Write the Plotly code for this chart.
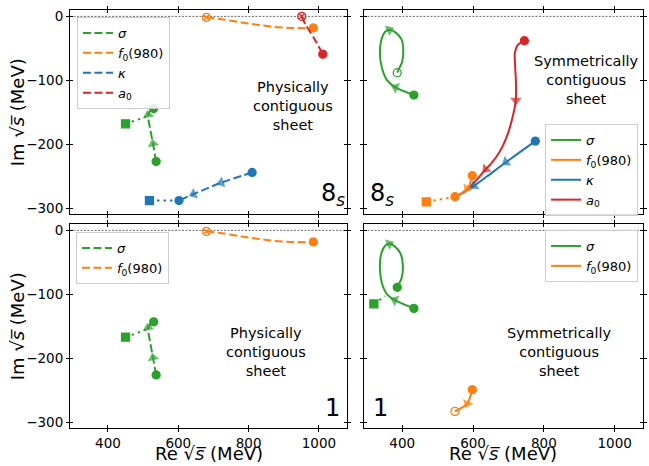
import plotly.graph_objects as go

# ---------------- data ----------------
x_ticks = [400, 600, 800, 1000]
y_ticks = [0, -100, -200, -300]
x_range = [292, 1080]
y_range = [-309, 10]

# Panel "8_s", physically contiguous sheet (dashed = pole path, dotted = continuation)
sig_8p_re = [537, 528, 520, 514, 522, 530]
sig_8p_im = [-227, -199, -176, -154, -147, -144]
sig_8p_dot_re = [450, 514]
sig_8p_dot_im = [-168, -156]
f0_8p_re = [680, 730, 780, 830, 875, 920, 962, 984]
f0_8p_im = [-1.5, -5, -9.5, -13.5, -16.5, -18, -18.5, -18]
a0_8p_re = [951, 962, 986, 1011]
a0_8p_im = [0, -13, -34, -59]
kap_8p_re = [810, 722, 643, 602]
kap_8p_im = [-244, -260, -278, -288]
kap_8p_dot_re = [602, 518]
kap_8p_dot_im = [-288, -288]

# Panel "8_s", symmetrically contiguous sheet
sig_8s_re = [433, 381, 357.5, 343, 337, 341, 352, 364, 381, 398, 403, 400, 392, 386]
sig_8s_im = [-123, -111, -100, -81, -58, -37, -24, -21, -25, -36, -52, -71, -81, -88]
a0_8s_re = [745, 726, 718, 719, 721, 721, 712, 698, 674, 650, 636, 608, 579, 561]
a0_8s_im = [-38, -45, -58, -79, -100, -131, -157, -184, -213, -231, -239, -257, -273, -279]
kap_8s_re = [776, 693, 640, 603, 588]
kap_8s_im = [-195, -228, -250, -265, -271]
f0_8s_re = [598, 591, 584, 566, 549]
f0_8s_im = [-249, -262, -269, -277, -282]
f0_8s_dot_re = [549, 468]
f0_8s_dot_im = [-282, -290]

# Panel "1", physically contiguous sheet
sig_1p_re = [537, 528, 520, 514, 522, 530]
sig_1p_im = [-226, -199, -175, -152, -146, -143]
sig_1p_dot_re = [450, 514]
sig_1p_dot_im = [-167, -154]
f0_1p_re = [680, 730, 780, 830, 875, 920, 962, 984]
f0_1p_im = [-1.5, -5, -9.5, -13.5, -16.5, -18, -18.5, -18]

# Panel "1", symmetrically contiguous sheet
sig_1s_re = [433, 379, 357.5, 343, 337, 341, 352, 364, 379, 395, 402, 398, 386]
sig_1s_im = [-122, -109, -100, -83, -57, -36, -24, -21, -25, -36, -57, -75, -89]
sig_1s_dot_re = [320, 352]
sig_1s_dot_im = [-115, -103]
f0_1s_re = [598, 591, 584, 566, 549]
f0_1s_im = [-249, -262, -271, -278, -283]

COL = dict(sigma='#2ca02c', f0='#ff7f0e', kappa='#1f77b4', a0='#d62728')
LAB = dict(sigma='<i>σ</i>', f0='<i>f</i><sub>0</sub>(980)', kappa='<i>κ</i>', a0='<i>a</i><sub>0</sub>')

# ---------------- layout helpers ----------------
W, H = 649, 466
ML, MR, MT, MB = 70, 2, 10, 38
PW, PH = W - ML - MR, H - MT - MB
def px(x):
    return (x - ML) / PW
def py(y):
    return 1 - (y - MT) / PH

DASH = "8px,3.5px"
DOT = "2.5px,4px"
FONT = "DejaVu Sans"

fig = go.Figure()

def ax(i):
    return ('x' if i == 1 else f'x{i}'), ('y' if i == 1 else f'y{i}')

def path(i, re, im, color, dash, width=2):
    xa, ya = ax(i)
    fig.add_trace(go.Scatter(x=re, y=im, mode='lines', xaxis=xa, yaxis=ya,
                             line=dict(color=color, width=width, dash=dash, shape='spline', smoothing=0.7),
                             showlegend=False, hoverinfo='skip'))

def marks(i, re, im, idx, symbol, color, size=8):
    xa, ya = ax(i)
    fig.add_trace(go.Scatter(x=[re[k] for k in idx], y=[im[k] for k in idx], mode='markers',
                             xaxis=xa, yaxis=ya,
                             marker=dict(symbol=symbol, size=size, color=color,
                                         line=dict(color=color, width=1.3)),
                             showlegend=False, hoverinfo='skip'))

def arrows(i, re, im, idx, color):
    xa, ya = ax(i)
    for k in idx:
        fig.add_trace(go.Scatter(x=[re[k - 1], re[k]], y=[im[k - 1], im[k]], mode='markers',
                                 xaxis=xa, yaxis=ya,
                                 marker=dict(symbol='triangle-up', size=[0, 10], color=color,
                                             angleref='previous', line=dict(width=0)),
                                 showlegend=False, hoverinfo='skip'))

def legend_entry(i, key, dash, leg):
    xa, ya = ax(i)
    fig.add_trace(go.Scatter(x=[None], y=[None], mode='lines', xaxis=xa, yaxis=ya,
                             line=dict(color=COL[key], width=2, dash=dash),
                             name=LAB[key], legend=leg, showlegend=True))

# ---- Panel 1: 8_s physical ----
path(1, sig_8p_re, sig_8p_im, COL['sigma'], DASH)
path(1, sig_8p_dot_re, sig_8p_dot_im, COL['sigma'], DOT)
arrows(1, sig_8p_re, sig_8p_im, [1, 3], COL['sigma'])
marks(1, sig_8p_re, sig_8p_im, [0, len(sig_8p_re) - 1], 'circle', COL['sigma'])
marks(1, sig_8p_dot_re, sig_8p_dot_im, [0], 'square', COL['sigma'])
path(1, f0_8p_re, f0_8p_im, COL['f0'], DASH)
marks(1, f0_8p_re, f0_8p_im, [0], 'circle-x-open', COL['f0'])
marks(1, f0_8p_re, f0_8p_im, [len(f0_8p_re) - 1], 'circle', COL['f0'])
path(1, a0_8p_re, a0_8p_im, COL['a0'], DASH)
marks(1, a0_8p_re, a0_8p_im, [0], 'circle-x-open', COL['a0'])
marks(1, a0_8p_re, a0_8p_im, [len(a0_8p_re) - 1], 'circle', COL['a0'])
path(1, kap_8p_re, kap_8p_im, COL['kappa'], DASH)
path(1, kap_8p_dot_re, kap_8p_dot_im, COL['kappa'], DOT)
arrows(1, kap_8p_re, kap_8p_im, [1, 2], COL['kappa'])
marks(1, kap_8p_re, kap_8p_im, [0, len(kap_8p_re) - 1], 'circle', COL['kappa'])
marks(1, kap_8p_dot_re, kap_8p_dot_im, [1], 'square', COL['kappa'])
for k in ['sigma', 'f0', 'kappa', 'a0']:
    legend_entry(1, k, DASH, 'legend')

# ---- Panel 2: 8_s symmetric ----
path(2, sig_8s_re, sig_8s_im, COL['sigma'], 'solid')
arrows(2, sig_8s_re, sig_8s_im, [1, 7], COL['sigma'])
marks(2, sig_8s_re, sig_8s_im, [0], 'circle', COL['sigma'])
marks(2, sig_8s_re, sig_8s_im, [len(sig_8s_re) - 1], 'circle-open', COL['sigma'])
path(2, a0_8s_re, a0_8s_im, COL['a0'], 'solid')
arrows(2, a0_8s_re, a0_8s_im, [5, 10], COL['a0'])
marks(2, a0_8s_re, a0_8s_im, [0], 'circle', COL['a0'])
path(2, kap_8s_re, kap_8s_im, COL['kappa'], 'solid')
arrows(2, kap_8s_re, kap_8s_im, [1, 3], COL['kappa'])
marks(2, kap_8s_re, kap_8s_im, [0], 'circle', COL['kappa'])
path(2, f0_8s_re, f0_8s_im, COL['f0'], 'solid')
path(2, f0_8s_dot_re, f0_8s_dot_im, COL['f0'], DOT)
arrows(2, f0_8s_re, f0_8s_im, [2], COL['f0'])
marks(2, f0_8s_re, f0_8s_im, [0, len(f0_8s_re) - 1], 'circle', COL['f0'])
marks(2, f0_8s_dot_re, f0_8s_dot_im, [1], 'square', COL['f0'])
for k in ['sigma', 'f0', 'kappa', 'a0']:
    legend_entry(2, k, 'solid', 'legend2')

# ---- Panel 3: 1 physical ----
path(3, sig_1p_re, sig_1p_im, COL['sigma'], DASH)
path(3, sig_1p_dot_re, sig_1p_dot_im, COL['sigma'], DOT)
arrows(3, sig_1p_re, sig_1p_im, [1, 3], COL['sigma'])
marks(3, sig_1p_re, sig_1p_im, [0, len(sig_1p_re) - 1], 'circle', COL['sigma'])
marks(3, sig_1p_dot_re, sig_1p_dot_im, [0], 'square', COL['sigma'])
path(3, f0_1p_re, f0_1p_im, COL['f0'], DASH)
marks(3, f0_1p_re, f0_1p_im, [0], 'circle-x-open', COL['f0'])
marks(3, f0_1p_re, f0_1p_im, [len(f0_1p_re) - 1], 'circle', COL['f0'])
for k in ['sigma', 'f0']:
    legend_entry(3, k, DASH, 'legend3')

# ---- Panel 4: 1 symmetric ----
path(4, sig_1s_re, sig_1s_im, COL['sigma'], 'solid')
path(4, sig_1s_dot_re, sig_1s_dot_im, COL['sigma'], DOT)
arrows(4, sig_1s_re, sig_1s_im, [1, 7], COL['sigma'])
marks(4, sig_1s_re, sig_1s_im, [0, len(sig_1s_re) - 1], 'circle', COL['sigma'])
marks(4, sig_1s_dot_re, sig_1s_dot_im, [0], 'square', COL['sigma'])
path(4, f0_1s_re, f0_1s_im, COL['f0'], 'solid')
arrows(4, f0_1s_re, f0_1s_im, [2], COL['f0'])
marks(4, f0_1s_re, f0_1s_im, [0], 'circle', COL['f0'])
marks(4, f0_1s_re, f0_1s_im, [len(f0_1s_re) - 1], 'circle-open', COL['f0'])
for k in ['sigma', 'f0']:
    legend_entry(4, k, 'solid', 'legend4')

# ---------------- axes ----------------
xdom = {1: [px(70), px(349)], 2: [px(366), px(647)], 3: [px(70), px(349)], 4: [px(366), px(647)]}
ydom = {1: [py(214), py(10)], 2: [py(214), py(10)], 3: [py(428), py(224)], 4: [py(428), py(224)]}
tickfont = dict(family=FONT, size=13.5, color='black')
layout_axes = {}
for i in range(1, 5):
    xn = 'xaxis' if i == 1 else f'xaxis{i}'
    yn = 'yaxis' if i == 1 else f'yaxis{i}'
    xa, ya = ax(i)
    layout_axes[xn] = dict(domain=xdom[i], range=x_range, anchor=ya, tickvals=x_ticks,
                           showticklabels=(i in (3, 4)), ticks='outside', ticklen=3, tickwidth=1,
                           tickcolor='black', mirror='ticks', showline=True, linecolor='black',
                           linewidth=1, showgrid=False, zeroline=False, tickfont=tickfont)
    layout_axes[yn] = dict(domain=ydom[i], range=y_range, anchor=xa, tickvals=y_ticks,
                           showticklabels=(i in (1, 3)), ticks='outside', ticklen=3, tickwidth=1,
                           tickcolor='black', mirror='ticks', showline=True, linecolor='black',
                           linewidth=1, showgrid=False, zeroline=False, tickfont=tickfont)
    # overlay axes for inward half of the ticks
    j = i + 4
    layout_axes[f'xaxis{j}'] = dict(overlaying=xa, range=x_range, anchor=f'y{j}', tickvals=x_ticks,
                                    showticklabels=False, ticks='inside', ticklen=3, tickwidth=1,
                                    tickcolor='black', mirror='ticks', showline=False,
                                    showgrid=False, zeroline=False)
    layout_axes[f'yaxis{j}'] = dict(overlaying=ya, range=y_range, anchor=f'x{j}', tickvals=y_ticks,
                                    showticklabels=False, ticks='inside', ticklen=3, tickwidth=1,
                                    tickcolor='black', mirror='ticks', showline=False,
                                    showgrid=False, zeroline=False)
    fig.add_trace(go.Scatter(x=[None], y=[None], xaxis=f'x{j}', yaxis=f'y{j}',
                             showlegend=False, hoverinfo='skip'))

# dotted zero lines
shapes = []
for i in range(1, 5):
    xa, ya = ax(i)
    shapes.append(dict(type='line', xref=f'{xa} domain', yref=ya, x0=0, x1=1, y0=0, y1=0,
                       line=dict(color='rgba(0,0,0,0.65)', width=0.9, dash='2px,1.5px'),
                       layer='below'))

# annotations
sqrt_s = "√<i>s\u0305</i>"
ann = []
for yc in (112, 326):
    ann.append(dict(text=f"Im {sqrt_s} (MeV)", x=px(17), y=py(yc), xref='paper', yref='paper',
                    textangle=-90, showarrow=False, xanchor='center', yanchor='middle',
                    font=dict(family=FONT, size=18, color='black')))
for xc in (209.5, 506.5):
    ann.append(dict(text=f"Re {sqrt_s} (MeV)", x=px(xc), y=py(466), xref='paper', yref='paper',
                    showarrow=False, xanchor='center', yanchor='bottom',
                    font=dict(family=FONT, size=18, color='black')))
for txt, xc, yc in [("Physically<br>contiguous<br>sheet", 295, 106),
                    ("Physically<br>contiguous<br>sheet", 267, 352),
                    ("Symmetrically<br>contiguous<br>sheet", 590, 80),
                    ("Symmetrically<br>contiguous<br>sheet", 563, 352)]:
    ann.append(dict(text=txt, x=px(xc), y=py(yc), xref='paper', yref='paper', showarrow=False,
                    xanchor='center', yanchor='middle', align='center',
                    font=dict(family=FONT, size=14.5, color='black')))
for txt, xc, yc in [("8<sub><i>s</i></sub>", 335, 195), ("8<sub><i>s</i></sub>", 384.5, 195),
                    ("1", 334.7, 407.5), ("1", 383, 407.5)]:
    ann.append(dict(text=txt, x=px(xc), y=py(yc), xref='paper', yref='paper', showarrow=False,
                    xanchor='center', yanchor='middle',
                    font=dict(family=FONT, size=24, color='black')))

leg_style = dict(bgcolor='rgba(255,255,255,0.85)', bordercolor='#cccccc', borderwidth=1,
                 font=dict(family=FONT, size=13, color='black'), itemwidth=30,
                 tracegroupgap=0)

fig.update_layout(
    width=W, height=H, margin=dict(l=ML, r=MR, t=MT, b=MB),
    paper_bgcolor='white', plot_bgcolor='white',
    font=dict(family=FONT, color='black'),
    shapes=shapes, annotations=ann,
    legend=dict(x=px(77), y=py(17), xanchor='left', yanchor='top', **leg_style),
    legend2=dict(x=px(642), y=py(124), xanchor='right', yanchor='top', **leg_style),
    legend3=dict(x=px(76), y=py(232), xanchor='left', yanchor='top', **leg_style),
    legend4=dict(x=px(642), y=py(230), xanchor='right', yanchor='top', **leg_style),
    **layout_axes,
)

fig.write_html("out.html", config={'displayModeBar': False},
               post_script="document.body.style.margin='0';document.body.style.overflow='hidden';")
